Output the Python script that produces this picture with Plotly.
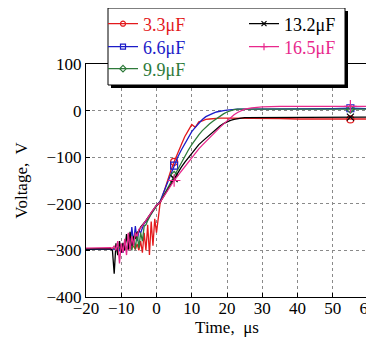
import plotly.graph_objects as go

time_us = [-20, -14, -13, -12.5, -12, -11.5, -11, -10.5, -10, -9.5, -9, -8.5, -8, -7.5, -7, -6.5,
           -6, -5.5, -5, -4.5, -4, -3.5, -3, -2.5, -2, -1.5, -1, -0.5, 0,
           1, 2, 3, 4, 5, 6, 7, 8, 9, 10, 11, 12, 13, 14, 15, 16, 17, 18, 19, 20, 21, 22, 23, 24, 25,
           27, 30, 35, 40, 45, 50, 55, 60]

v_3_3 = [-296, -296, -297, -295, -296, -297, -295, -296, -297, -295, -296, -294, -297, -293, -296, -290,
         -298, -286, -300, -280, -305, -262, -300, -245, -310, -238, -290, -232, -262,
         -200, -176, -152, -130, -110, -90, -74, -56, -42, -30, -36, -24, -22, -19, -18, -17, -17, -16, -16, -16, -16, -16, -16, -16, -16,
         -17, -17, -17, -18, -18, -18, -19, -18]

v_6_6 = [-298, -298, -297, -299, -296, -300, -293, -302, -290, -305, -288, -300, -276, -295, -250, -285,
         -248, -280, -258, -262, -250, -242, -238, -232, -226, -220, -215, -209, -204,
         -195, -176, -157, -138, -118, -100, -85, -72, -58, -45, -36, -27, -19, -13, -9, -6, -3, -1, 0, 1, 2, 2, 3, 3, 3,
         3, 4, 4, 4, 4, 4, 5, 4]

v_9_9 = [-296, -296, -297, -296, -295, -297, -296, -295, -297, -296, -295, -296, -290, -275, -300, -268,
         -298, -260, -295, -262, -280, -248, -245, -236, -228, -222, -216, -210, -205,
         -196, -182, -168, -153, -139, -125, -111, -97, -85, -73, -62, -52, -43, -35, -29, -23, -17, -12, -7, -3, 0, 2, 3, 3, 3,
         3, 3, 3, 3, 3, 3, 3, 3]

v_13_2 = [-297, -297, -296, -300, -350, -285, -310, -280, -305, -284, -300, -265, -298, -260, -290, -270,
          -275, -262, -258, -250, -246, -240, -236, -230, -225, -219, -214, -208, -203,
          -197, -184, -171, -158, -146, -134, -122, -111, -101, -91, -82, -73, -66, -59, -52, -45, -38, -33, -28, -24, -21, -19, -17, -16, -15,
          -15, -15, -15, -15, -14, -14, -14, -14]

v_16_5 = [-295, -295, -294, -296, -290, -300, -280, -328, -285, -305, -275, -310, -262, -300, -270, -290,
          -262, -270, -255, -252, -247, -241, -236, -230, -225, -219, -213, -208, -203,
          -197, -185, -173, -161, -150, -140, -130, -120, -110, -100, -91, -82, -74, -66, -58, -50, -43, -36, -29, -22, -15, -9, -4, 0, 3,
          6, 8, 9, 9, 9, 9, 9, 9]

marker_times = [5, 55]
names = ["3.3μF", "6.6μF", "9.9μF", "13.2μF", "16.5μF"]
series = [v_3_3, v_6_6, v_9_9, v_13_2, v_16_5]
colors = ["#e3191c", "#1c1cc8", "#2e7a3a", "#000000", "#e8288c"]
symbols = ["circle-open", "square-open", "diamond-open", "x-thin-open", "cross-thin-open"]
msizes = [7, 7, 6, 7, 9]

FONT = "Liberation Serif, Times New Roman, serif"
# page body has an 8px margin: work in window pixels and convert to figure pixels
OFF = 8
W, H = 374 - OFF, 337 - OFF
L, R, T, B = 86 - OFF, 368 - OFF, 64 - OFF, 297 - OFF


def px(xw):
    return (xw - OFF - L) / (R - L)


def py(yw):
    return (B - (yw - OFF)) / (B - T)


# legend entries: (left edge, row centre) in window pixels
legend_slots = [(103, 24), (103, 47), (103, 69), (244, 24), (244, 47)]

fig = go.Figure()
legend_layout = {}
for i, (name, vals, col, sym, ms) in enumerate(zip(names, series, colors, symbols, msizes)):
    lg = "legend" if i == 0 else f"legend{i + 1}"
    fig.add_trace(go.Scatter(x=time_us, y=vals, mode="lines", line=dict(color=col, width=1.3),
                             showlegend=False, hoverinfo="skip"))
    mx = [t for t in time_us if t in marker_times]
    my = [v for t, v in zip(time_us, vals) if t in marker_times]
    fig.add_trace(go.Scatter(x=mx, y=my, mode="markers",
                             marker=dict(symbol=sym, size=ms, color=col, line=dict(color=col, width=1.2)),
                             showlegend=False, hoverinfo="skip"))
    fig.add_trace(go.Scatter(x=[None], y=[None], mode="lines+markers",
                             name=f'<span style="color:{col}">{name}</span>',
                             line=dict(color=col, width=1.2),
                             marker=dict(symbol=sym, size=5, color=col, line=dict(color=col, width=1.2)),
                             legend=lg))
    sx, sy = legend_slots[i]
    legend_layout[lg] = dict(x=px(sx), y=py(sy), xanchor="left", yanchor="middle",
                             bgcolor="rgba(0,0,0,0)", borderwidth=0,
                             font=dict(family=FONT, size=18))

shapes = [
    dict(type="rect", xref="paper", yref="paper", x0=px(111), x1=px(348), y0=py(88), y1=py(11),
         fillcolor="black", line=dict(width=0), layer="above"),
    dict(type="rect", xref="paper", yref="paper", x0=px(108), x1=px(345), y0=py(85), y1=py(8),
         fillcolor="white", line=dict(color="black", width=1), layer="above"),
]

axis_common = dict(showline=True, linecolor="black", linewidth=1, mirror=True,
                   showgrid=True, gridcolor="#8a8a8a", griddash="dot", gridwidth=1,
                   zeroline=False, ticks="inside", ticklen=4, tickcolor="black",
                   ticklabeloverflow="allow",
                   tickfont=dict(family="Liberation Serif", size=17, color="black"))

fig.update_layout(
    width=W, height=H,
    margin=dict(l=L, r=W - R, t=T, b=H - B, autoexpand=False),
    paper_bgcolor="white", plot_bgcolor="white",
    font=dict(family=FONT, color="black"),
    shapes=shapes,
    xaxis=dict(range=[-20, 60], tickmode="array", tickvals=[-20, -10, 0, 10, 20, 30, 40, 50, 60],
               ticklabelstandoff=-4,
               title=dict(text="Time,  μs", font=dict(family="Liberation Serif", size=17), standoff=3),
               **axis_common),
    yaxis=dict(range=[-400, 100], tickmode="array", tickvals=[-400, -300, -200, -100, 0, 100],
               title=dict(text="Voltage,  V", font=dict(family="Liberation Serif", size=17), standoff=14),
               **axis_common),
    **legend_layout,
)

fig.write_html("out.html")
